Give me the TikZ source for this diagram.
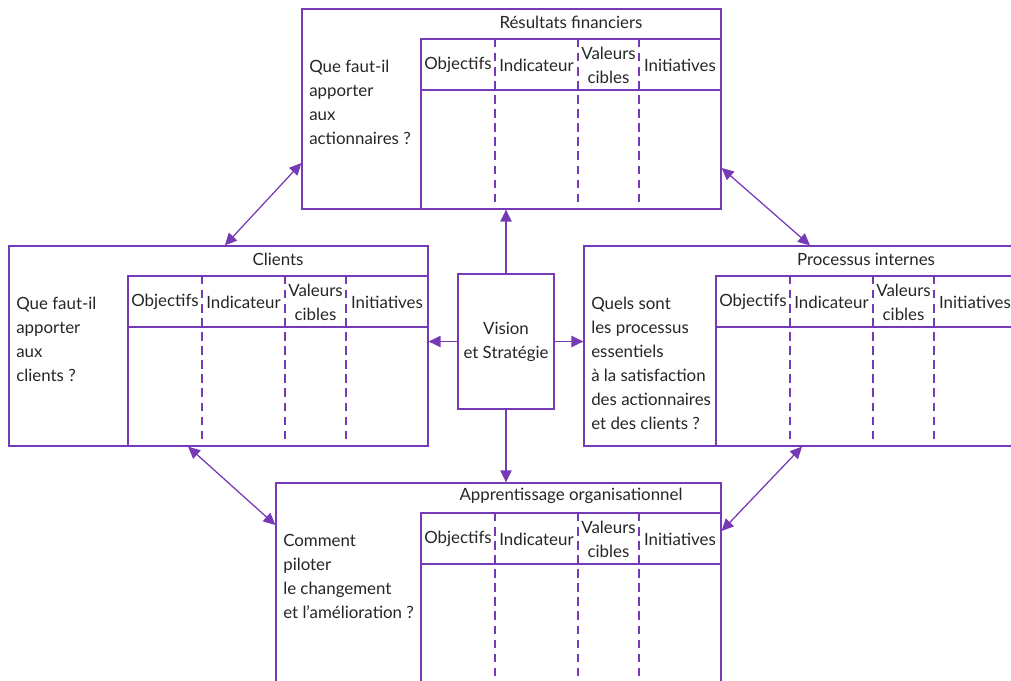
\documentclass[tikz,border=0pt]{standalone}
\usepackage{fontspec}
\setmainfont{Lato}
\usetikzlibrary{arrows.meta,fit}

\definecolor{violet}{RGB}{118,58,182}

\tikzset{
  panel/.style={draw=violet, line width=0.9pt},
  cols/.style={draw=violet, line width=0.8pt, dash pattern=on 6pt off 4pt},
  link/.style={draw=violet, line width=0.9pt, {Triangle[length=8.5pt,width=8pt]}-{Triangle[length=8.5pt,width=8pt]}},
  push/.style={draw=violet, line width=0.9pt, -{Triangle[length=8.5pt,width=8pt]}},
  txt/.style={text=black!85, font=\fontsize{12}{17}\selectfont, inner sep=0pt}
}

% one perspective of the scorecard:
% #1 name, #2 left, #3 top, #4 left of the table, #5 right, #6 title, #7 question
\newcommand{\perspective}[7]{%
  \node[panel, inner sep=0pt, fit={(#2,#3) (#5,#3+200)}] (#1) {};
  \draw[panel] (#4,#3+200) -- (#4,#3+30) -- (#5,#3+30);
  \draw[panel] (#4,#3+81) -- (#5,#3+81);
  \foreach \dx in {74,157,218}
    \draw[cols] (#4+\dx,#3+30) -- (#4+\dx,#3+200);
  \node[txt] (#1-title) at (#4+150,#3+13) {#6};
  \node[txt] (#1-obj) at (#4+37,#3+56) {Objectifs};
  \node[txt] (#1-ind) at (#4+115.5,#3+56) {Indicateur};
  \node[txt, align=center] (#1-val) at (#4+187.5,#3+56) {Valeurs\\cibles};
  \node[txt] (#1-ini) at (#4+259,#3+56) {Initiatives};
  \node[txt, align=left, anchor=north west] (#1-q) at (#2+7,#3+51) {#7};
}

\begin{document}
\begin{tikzpicture}[x=0.025cm,y=-0.025cm]
\clip (0,0) rectangle (1011,681);

\perspective{fin}{302}{9}{421}{721}{Résultats financiers}
  {Que faut-il\\apporter\\aux\\actionnaires ?}
\perspective{cli}{9}{246}{128}{428}{Clients}
  {Que faut-il\\apporter\\aux\\clients ?}
\perspective{proc}{584}{246}{716}{1016}{Processus internes}
  {Quels sont\\les processus\\essentiels\\à la satisfaction\\des actionnaires\\et des clients ?}
\perspective{app}{276}{483}{421}{721}{Apprentissage organisationnel}
  {Comment\\piloter\\le changement\\et l’amélioration ?}

\node[panel, txt, align=center, minimum width=2.4cm, minimum height=3.375cm] (vis) at (506,341.5) {Vision\\et Stratégie};

%% vision feeds the four perspectives
\draw[push] (vis.north) -- (vis.north |- fin.south);
\draw[push] (vis.west) -- (vis.west -| cli.east);
\draw[push] (vis.east) -- (vis.east -| proc.west);
\draw[push] (vis.south) -- (vis.south |- app.north);

%% links between neighbours
\draw[link] ([xshift=0.16cm]cli.north) -- ([yshift=-1.35cm]fin.west);
\draw[link] ([yshift=-1.475cm]fin.east) -- ([xshift=0.25cm]proc.north);
\draw[link] ([xshift=-0.76cm]cli.south) -- ([yshift=1.45cm]app.west);
\draw[link] ([xshift=0.05cm]proc.south) -- ([yshift=1.3cm]app.east);

\end{tikzpicture}
\end{document}
